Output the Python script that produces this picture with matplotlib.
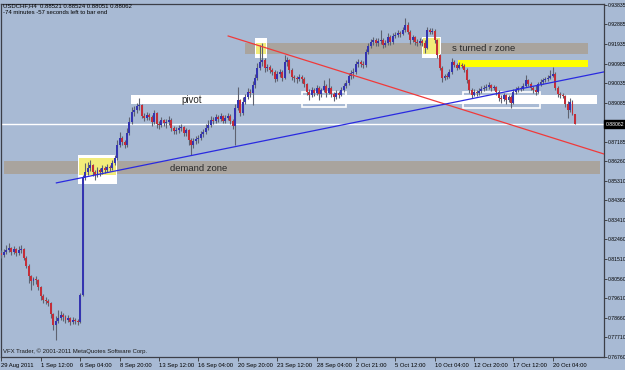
import matplotlib
matplotlib.use("Agg")
import matplotlib.pyplot as plt
from matplotlib.patches import Rectangle

# USDCHF H4 candles (bar index 0 = 29 Aug 2011 00:00)
opens = [
    0.8180, 0.8171, 0.8185, 0.8195, 0.8204, 0.8185, 0.8200, 0.8180, 0.8195, 0.8200,
    0.8156, 0.8117, 0.8069, 0.8045, 0.8054, 0.8049, 0.8015, 0.7972, 0.7952, 0.7948,
    0.7938, 0.7885, 0.7831, 0.7851, 0.7865, 0.7880, 0.7870, 0.7856, 0.7865, 0.7846,
    0.7856, 0.7851, 0.7846, 0.7977, 0.8544, 0.8573, 0.8592, 0.8607, 0.8573, 0.8558,
    0.8583, 0.8573, 0.8592, 0.8583, 0.8597, 0.8592, 0.8616, 0.8641, 0.8704, 0.8738,
    0.8718, 0.8704, 0.8762, 0.8815, 0.8864, 0.8873, 0.8893, 0.8898, 0.8844, 0.8835,
    0.8849, 0.8839, 0.8815, 0.8859, 0.8806, 0.8801, 0.8825, 0.8810, 0.8815, 0.8825,
    0.8786, 0.8772, 0.8776, 0.8786, 0.8791, 0.8762, 0.8776, 0.8728, 0.8704, 0.8723,
    0.8733, 0.8738, 0.8757, 0.8767, 0.8786, 0.8801, 0.8825, 0.8820, 0.8839, 0.8830,
    0.8844, 0.8820, 0.8835, 0.8844, 0.8820, 0.8796, 0.8883, 0.8922, 0.8859, 0.8912,
    0.8936, 0.8961, 0.8956, 0.8995, 0.9028, 0.9077, 0.9106, 0.9116, 0.9077, 0.9082,
    0.9067, 0.9058, 0.9024, 0.9048, 0.9058, 0.9028, 0.9106, 0.9116, 0.9067, 0.9033,
    0.9028, 0.9024, 0.9033, 0.9024, 0.8999, 0.8961, 0.8946, 0.8970, 0.8956, 0.8980,
    0.8951, 0.8970, 0.8990, 0.8956, 0.8980, 0.8951, 0.8936, 0.8956, 0.8946, 0.8970,
    0.8990, 0.9004, 0.9038, 0.9053, 0.9058, 0.9096, 0.9106, 0.9096, 0.9091, 0.9155,
    0.9184, 0.9203, 0.9213, 0.9198, 0.9208, 0.9213, 0.9188, 0.9198, 0.9227, 0.9203,
    0.9232, 0.9237, 0.9247, 0.9242, 0.9261, 0.9285, 0.9251, 0.9213, 0.9227, 0.9203,
    0.9198, 0.9208, 0.9198, 0.9174, 0.9261, 0.9251, 0.9256, 0.9213, 0.9140, 0.9077,
    0.9028, 0.9038, 0.9033, 0.9058, 0.9106, 0.9091, 0.9077, 0.9091, 0.9087, 0.9067,
    0.9019, 0.8970, 0.8946, 0.8961, 0.8956, 0.8965, 0.8975, 0.8980, 0.8985, 0.8995,
    0.8980, 0.8985, 0.8961, 0.8932, 0.8927, 0.8946, 0.8922, 0.8936, 0.8907, 0.8961,
    0.8970, 0.8980, 0.8975, 0.8990, 0.9019, 0.8999, 0.8980, 0.8970, 0.8961, 0.8999,
    0.9009, 0.9019, 0.9024, 0.9028, 0.9038, 0.9048, 0.8980, 0.8951, 0.8946, 0.8941,
    0.8902, 0.8873, 0.8912, 0.88521,
]
highs = [
    0.8195, 0.8200, 0.8219, 0.8229, 0.8209, 0.8214, 0.8204, 0.8214, 0.8219, 0.8204,
    0.8166, 0.8127, 0.8074, 0.8064, 0.8069, 0.8054, 0.8020, 0.7982, 0.7967, 0.7957,
    0.7943, 0.7889, 0.7875, 0.7904, 0.7899, 0.7889, 0.7880, 0.7880, 0.7870, 0.7870,
    0.7865, 0.7860, 0.7986, 0.8558, 0.8616, 0.8621, 0.8631, 0.8612, 0.8583, 0.8597,
    0.8592, 0.8607, 0.8602, 0.8612, 0.8607, 0.8631, 0.8655, 0.8728, 0.8767, 0.8747,
    0.8728, 0.8786, 0.8839, 0.8888, 0.8893, 0.8907, 0.8932, 0.8902, 0.8859, 0.8864,
    0.8859, 0.8849, 0.8873, 0.8864, 0.8820, 0.8839, 0.8830, 0.8830, 0.8844, 0.8835,
    0.8796, 0.8791, 0.8801, 0.8806, 0.8796, 0.8786, 0.8781, 0.8738, 0.8738, 0.8747,
    0.8752, 0.8772, 0.8781, 0.8806, 0.8825, 0.8844, 0.8839, 0.8854, 0.8849, 0.8859,
    0.8849, 0.8849, 0.8859, 0.8854, 0.8830, 0.8902, 0.8985, 0.8927, 0.8936, 0.8951,
    0.8980, 0.8975, 0.9014, 0.9048, 0.9101, 0.9188, 0.9198, 0.9125, 0.9096, 0.9091,
    0.9077, 0.9067, 0.9062, 0.9072, 0.9067, 0.9140, 0.9130, 0.9120, 0.9077, 0.9043,
    0.9038, 0.9048, 0.9043, 0.9033, 0.9004, 0.8975, 0.8985, 0.8980, 0.8995, 0.8990,
    0.8980, 0.9019, 0.8999, 0.9028, 0.8990, 0.8961, 0.8970, 0.8965, 0.8985, 0.9004,
    0.9019, 0.9053, 0.9067, 0.9077, 0.9111, 0.9120, 0.9116, 0.9111, 0.9169, 0.9198,
    0.9217, 0.9227, 0.9222, 0.9222, 0.9261, 0.9222, 0.9213, 0.9247, 0.9237, 0.9247,
    0.9251, 0.9261, 0.9256, 0.9276, 0.9319, 0.9300, 0.9261, 0.9237, 0.9232, 0.9217,
    0.9222, 0.9217, 0.9213, 0.9276, 0.9271, 0.9271, 0.9266, 0.9217, 0.9145, 0.9087,
    0.9048, 0.9053, 0.9072, 0.9125, 0.9116, 0.9101, 0.9106, 0.9101, 0.9096, 0.9077,
    0.9024, 0.8980, 0.8975, 0.8970, 0.8980, 0.8990, 0.8995, 0.8999, 0.9009, 0.8999,
    0.8995, 0.8990, 0.8970, 0.8946, 0.8956, 0.8951, 0.8946, 0.8946, 0.8975, 0.8985,
    0.8990, 0.8990, 0.9004, 0.9043, 0.9024, 0.9009, 0.8990, 0.8995, 0.9009, 0.9024,
    0.9028, 0.9033, 0.9043, 0.9067, 0.9082, 0.9058, 0.8990, 0.8961, 0.8956, 0.8946,
    0.8917, 0.8932, 0.8922, 0.88524,
]
lows = [
    0.8156, 0.8161, 0.8176, 0.8185, 0.8171, 0.8176, 0.8166, 0.8171, 0.8180, 0.8146,
    0.8108, 0.8035, 0.8001, 0.8025, 0.8030, 0.8001, 0.7952, 0.7938, 0.7933, 0.7923,
    0.7865, 0.7807, 0.7759, 0.7841, 0.7856, 0.7851, 0.7841, 0.7846, 0.7831, 0.7836,
    0.7836, 0.7831, 0.7841, 0.7972, 0.8534, 0.8558, 0.8578, 0.8553, 0.8534, 0.8549,
    0.8553, 0.8563, 0.8568, 0.8573, 0.8578, 0.8583, 0.8607, 0.8631, 0.8694, 0.8704,
    0.8690, 0.8694, 0.8752, 0.8806, 0.8844, 0.8859, 0.8873, 0.8835, 0.8820, 0.8825,
    0.8825, 0.8796, 0.8806, 0.8786, 0.8781, 0.8791, 0.8796, 0.8786, 0.8801, 0.8772,
    0.8757, 0.8757, 0.8762, 0.8772, 0.8747, 0.8747, 0.8704, 0.8655, 0.8690, 0.8709,
    0.8713, 0.8728, 0.8743, 0.8757, 0.8776, 0.8791, 0.8806, 0.8810, 0.8815, 0.8820,
    0.8810, 0.8810, 0.8825, 0.8806, 0.8781, 0.8704, 0.8873, 0.8844, 0.8849, 0.8902,
    0.8927, 0.8936, 0.8898, 0.8980, 0.9019, 0.9067, 0.9087, 0.9058, 0.9062, 0.9053,
    0.9043, 0.9009, 0.9014, 0.9033, 0.9014, 0.9024, 0.9087, 0.9053, 0.9019, 0.9009,
    0.9004, 0.9014, 0.9004, 0.8985, 0.8946, 0.8922, 0.8936, 0.8941, 0.8946, 0.8922,
    0.8936, 0.8961, 0.8936, 0.8951, 0.8936, 0.8917, 0.8927, 0.8932, 0.8941, 0.8961,
    0.8980, 0.8995, 0.9024, 0.9028, 0.9048, 0.9082, 0.9082, 0.9077, 0.9082, 0.9145,
    0.9174, 0.9188, 0.9184, 0.9184, 0.9193, 0.9174, 0.9179, 0.9188, 0.9188, 0.9193,
    0.9222, 0.9227, 0.9227, 0.9237, 0.9251, 0.9242, 0.9193, 0.9203, 0.9188, 0.9184,
    0.9188, 0.9184, 0.9150, 0.9169, 0.9242, 0.9242, 0.9198, 0.9125, 0.9067, 0.9009,
    0.9019, 0.9024, 0.9028, 0.9048, 0.9082, 0.9067, 0.9072, 0.9077, 0.9058, 0.9004,
    0.8956, 0.8932, 0.8941, 0.8941, 0.8946, 0.8956, 0.8965, 0.8970, 0.8975, 0.8965,
    0.8970, 0.8946, 0.8917, 0.8907, 0.8917, 0.8902, 0.8912, 0.8883, 0.8902, 0.8951,
    0.8961, 0.8965, 0.8970, 0.8985, 0.8990, 0.8970, 0.8956, 0.8946, 0.8956, 0.8990,
    0.8999, 0.9009, 0.9014, 0.9024, 0.9033, 0.8970, 0.8936, 0.8932, 0.8932, 0.8888,
    0.8835, 0.8864, 0.8849, 0.88051,
]
closes = [
    0.8171, 0.8185, 0.8195, 0.8204, 0.8185, 0.8200, 0.8180, 0.8195, 0.8200, 0.8156,
    0.8117, 0.8069, 0.8045, 0.8054, 0.8049, 0.8015, 0.7972, 0.7952, 0.7948, 0.7938,
    0.7885, 0.7831, 0.7851, 0.7865, 0.7880, 0.7870, 0.7856, 0.7865, 0.7846, 0.7856,
    0.7851, 0.7846, 0.7977, 0.8544, 0.8573, 0.8592, 0.8607, 0.8573, 0.8558, 0.8583,
    0.8573, 0.8592, 0.8583, 0.8597, 0.8592, 0.8616, 0.8641, 0.8704, 0.8738, 0.8718,
    0.8704, 0.8762, 0.8815, 0.8864, 0.8873, 0.8893, 0.8898, 0.8844, 0.8835, 0.8849,
    0.8839, 0.8815, 0.8859, 0.8806, 0.8801, 0.8825, 0.8810, 0.8815, 0.8825, 0.8786,
    0.8772, 0.8776, 0.8786, 0.8791, 0.8762, 0.8776, 0.8728, 0.8704, 0.8723, 0.8733,
    0.8738, 0.8757, 0.8767, 0.8786, 0.8801, 0.8825, 0.8820, 0.8839, 0.8830, 0.8844,
    0.8820, 0.8835, 0.8844, 0.8820, 0.8796, 0.8883, 0.8922, 0.8859, 0.8912, 0.8936,
    0.8961, 0.8956, 0.8995, 0.9028, 0.9077, 0.9106, 0.9116, 0.9077, 0.9082, 0.9067,
    0.9058, 0.9024, 0.9048, 0.9058, 0.9028, 0.9106, 0.9116, 0.9067, 0.9033, 0.9028,
    0.9024, 0.9033, 0.9024, 0.8999, 0.8961, 0.8946, 0.8970, 0.8956, 0.8980, 0.8951,
    0.8970, 0.8990, 0.8956, 0.8980, 0.8951, 0.8936, 0.8956, 0.8946, 0.8970, 0.8990,
    0.9004, 0.9038, 0.9053, 0.9058, 0.9096, 0.9106, 0.9096, 0.9091, 0.9155, 0.9184,
    0.9203, 0.9213, 0.9198, 0.9208, 0.9213, 0.9188, 0.9198, 0.9227, 0.9203, 0.9232,
    0.9237, 0.9247, 0.9242, 0.9261, 0.9285, 0.9251, 0.9213, 0.9227, 0.9203, 0.9198,
    0.9208, 0.9198, 0.9174, 0.9261, 0.9251, 0.9256, 0.9213, 0.9140, 0.9077, 0.9028,
    0.9038, 0.9033, 0.9058, 0.9106, 0.9091, 0.9077, 0.9091, 0.9087, 0.9067, 0.9019,
    0.8970, 0.8946, 0.8961, 0.8956, 0.8965, 0.8975, 0.8980, 0.8985, 0.8995, 0.8980,
    0.8985, 0.8961, 0.8932, 0.8927, 0.8946, 0.8922, 0.8936, 0.8907, 0.8961, 0.8970,
    0.8980, 0.8975, 0.8990, 0.9019, 0.8999, 0.8980, 0.8970, 0.8961, 0.8999, 0.9009,
    0.9019, 0.9024, 0.9028, 0.9038, 0.9048, 0.8980, 0.8951, 0.8946, 0.8941, 0.8902,
    0.8873, 0.8912, 0.88521, 0.88062,
]

date_bars = [0, 16, 32, 48, 64, 80, 96, 112, 128, 144, 160, 176, 192, 208, 224]
date_labels = ["29 Aug 2011", "1 Sep 12:00", "6 Sep 04:00", "8 Sep 20:00",
               "13 Sep 12:00", "16 Sep 04:00", "20 Sep 20:00", "23 Sep 12:00",
               "28 Sep 04:00", "2 Oct 21:00", "5 Oct 12:00", "10 Oct 04:00",
               "12 Oct 20:00", "17 Oct 12:00", "20 Oct 04:00"]
price_ticks = [0.76760, 0.77710, 0.78660, 0.79610, 0.80560, 0.81510, 0.82460,
               0.83410, 0.84360, 0.85310, 0.86260, 0.87185, 0.89085, 0.90035,
               0.90985, 0.91935, 0.92885, 0.93835]
last_price = 0.88062

BG = "#A8BAD4"
FONT = "Liberation Sans"
W, H = 625, 370

fig = plt.figure(figsize=(W / 100, H / 100), dpi=100)
fig.patch.set_facecolor(BG)
ax = fig.add_axes([1.5 / W, 13 / H, 602.5 / W, 353 / H])
ax.set_facecolor(BG)
ax.set_xlim(0.12, 244.8)
ax.set_ylim(0.76761, 0.93871)


def zone(x0, x1, y0, y1, fc, ec="none", lw=0, z=1):
    ax.add_patch(Rectangle((x0, y0), x1 - x0, y1 - y0, facecolor=fc,
                           edgecolor=ec, linewidth=lw, zorder=z))


# zones drawn under the candles
zone(1.1, 243.2, 0.8563, 0.8626, "#A9A49E")          # demand zone
zone(52.7, 242.0, 0.8902, 0.8944, "white")           # pivot
zone(99.0, 238.3, 0.9145, 0.9198, "#A9A49E")         # s turned r zone
zone(185.5, 238.3, 0.9082, 0.9116, "#FFFF00")        # yellow band

# highlighted touches: white box with yellow centre
for x0, x1, y0, y1, yy0, yy1 in [(31.2, 47.0, 0.8515, 0.8655, 0.8560, 0.8640),
                                 (103.1, 107.9, 0.9125, 0.9222, 0.9145, 0.9200),
                                 (170.9, 178.6, 0.9125, 0.9227, 0.9145, 0.9222)]:
    zone(x0, x1, y0, y1, "white", z=1.4)
    zone(x0 + 0.4, x1 - 0.4, yy0, yy1, "#F2EC7A", z=1.5)

zone(122.2, 140.0, 0.8888, 0.8961, "none", "white", 1.2, 1.5)
zone(187.5, 218.8, 0.8883, 0.8961, "none", "white", 1.2, 1.5)

ax.text(73, 0.8922, "pivot", fontsize=7, family=FONT, color="#2a2a2a",
        va="center", zorder=2)
ax.text(68.6, 0.8592, "demand zone", fontsize=6.8, family=FONT, color="#2a2a2a",
        va="center", zorder=2)
ax.text(183.1, 0.9169, "s turned r zone", fontsize=6.8, family=FONT,
        color="#2a2a2a", va="center", zorder=2)

ax.axhline(last_price, color="white", lw=1, zorder=2)

# candles
for i, (o, h, l, c) in enumerate(zip(opens, highs, lows, closes)):
    col = "#3434B0" if c >= o else "#C42E38"
    ax.vlines(i, l, h, color="#5E6270", lw=0.8, zorder=3)
    ax.bar(i, max(abs(c - o), 0.00008), bottom=min(o, c), width=0.8,
           color=col, linewidth=0, zorder=4)

# trend lines
ax.plot([92.1, 244.8], [0.9232, 0.8660], color="#F03A3A", lw=0.9, zorder=5)
ax.plot([22.3, 244.8], [0.8520, 0.9058], color="#2A2AE0", lw=0.9, zorder=5)

for side in ["left", "top", "right", "bottom"]:
    ax.spines[side].set_color("#3C3F48")
    ax.spines[side].set_linewidth(0.9)

ax.yaxis.tick_right()
ax.set_yticks(price_ticks)
ax.set_yticklabels([f"{p:.5f}" for p in price_ticks], fontsize=3.7, family=FONT)
ax.tick_params(axis="y", length=2, width=0.6, color="#333333", pad=0.6)
ax.set_xticks(date_bars)
ax.set_xticklabels(date_labels, fontsize=4.2, family=FONT, ha="left")
ax.tick_params(axis="x", length=3, width=0.6, color="#333333", pad=1)

fig.text(605.5 / W, 1 - 124 / H, f"{last_price:.5f}", fontsize=3.7, family=FONT,
         color="white", va="center", ha="left",
         bbox=dict(facecolor="black", edgecolor="black", pad=0.8))

fig.text(3 / W, 1 - 6 / H, "USDCHF,H4  0.88521 0.88524 0.88051 0.88062",
         fontsize=4.3, family=FONT, color="black", va="center")
fig.text(3 / W, 1 - 12.7 / H, "-74 minutes -57 seconds left to bar end",
         fontsize=4.3, family=FONT, color="black", va="center")
fig.text(3 / W, 1 - 351 / H, "VFX Trader, \u00a9 2001-2011 MetaQuotes Software Corp.",
         fontsize=4.3, family=FONT, color="#1a1a1a", va="center")

fig.savefig("out.png", dpi=100, facecolor=BG)
